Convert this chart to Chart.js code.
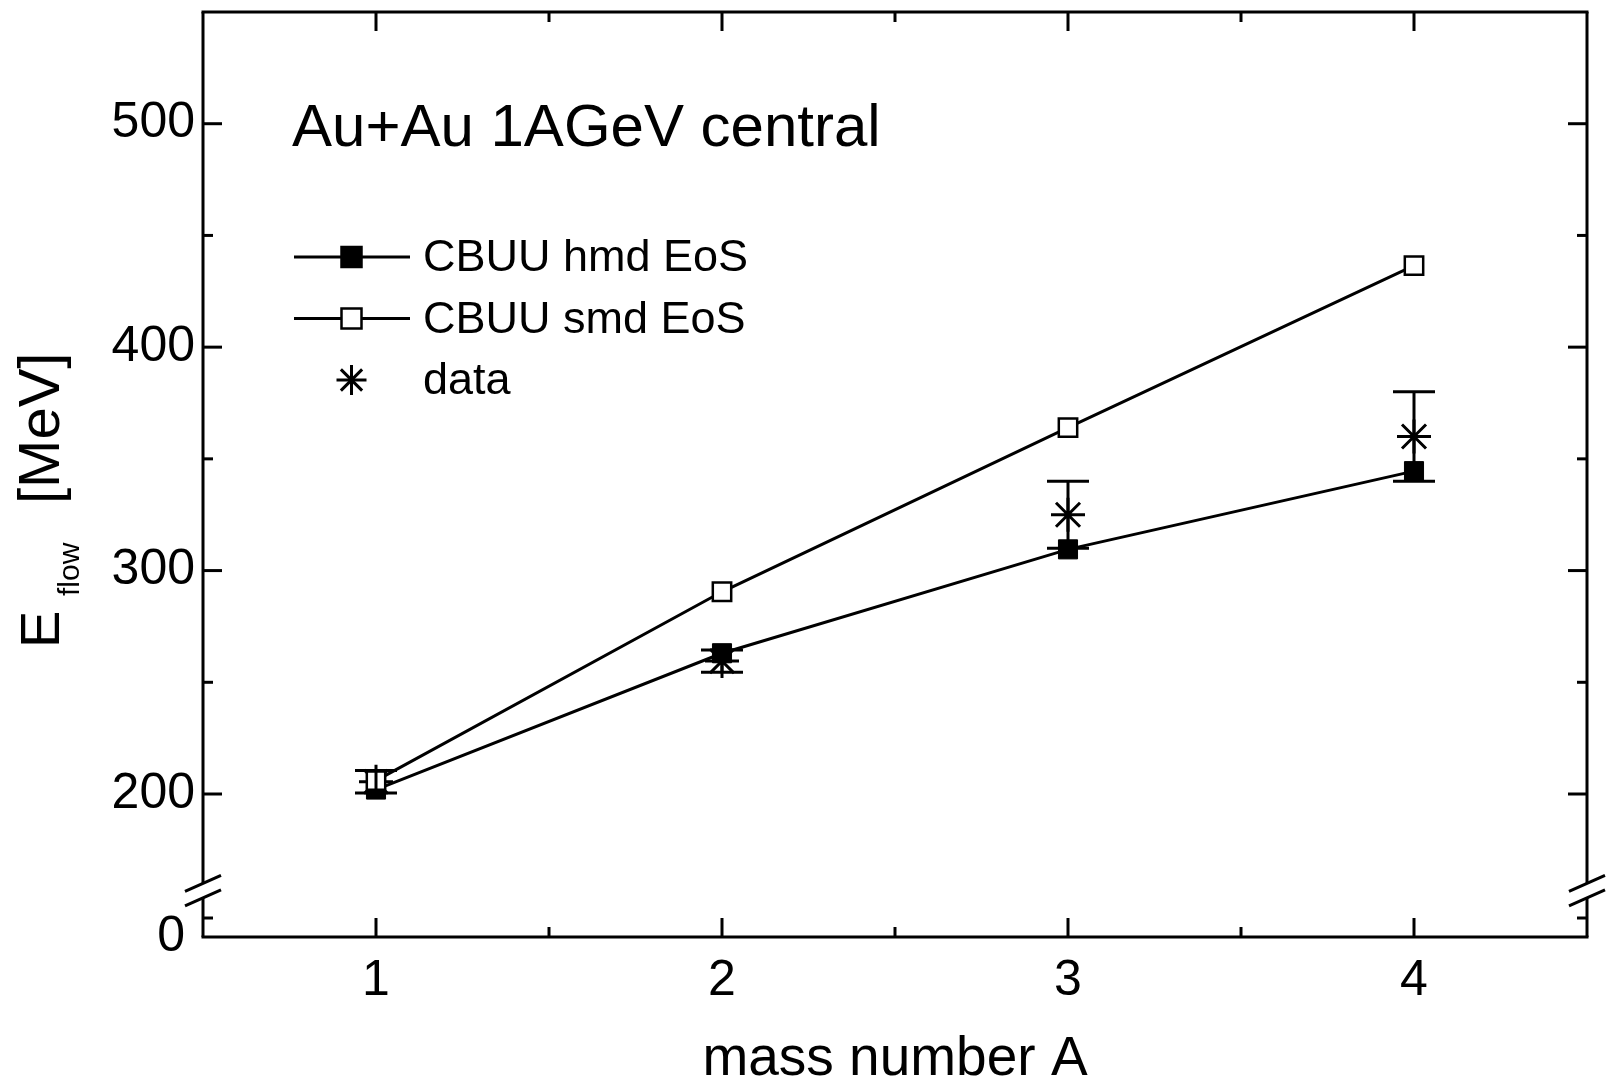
<!DOCTYPE html>
<html>
<head>
<meta charset="utf-8">
<script src="https://cdn.jsdelivr.net/npm/chart.js@4/dist/chart.umd.min.js"></script>
<style>
  body { margin: 0; background: #fff; }
  #wrap { width: 1606px; height: 1086px; }
</style>
</head>
<body>
<div id="wrap"><canvas id="chart"></canvas></div>
<script>
// values
const massNumber = [1, 2, 3, 4];
const hmdFlow = [202, 263, 309.5, 344.5];
const smdFlow = [206, 290.5, 364, 436.5];
const dataFlow = [205.5, 259.5, 325, 360];
const dataErr = [5, 5, 15, 20];

const xTicks = [1, 2, 3, 4];
const xMinorTicks = [1.5, 2.5, 3.5];
const yTicks = [200, 300, 400, 500];
const yMinorTicks = [250, 350, 450];
// broken axis: frame bottom is labelled 0
const yMin = 136, yMax = 550;
const yBreak = [153.5, 160];
const yZeroTick = 144.5;

const legendItems = ['CBUU hmd EoS', 'CBUU smd EoS', 'data'];
const FONT = '"Liberation Sans", Arial, sans-serif';

const frame = {
  id: 'frame',
  afterDatasetsDraw(c) {
    const ctx = c.ctx, a = c.chartArea, xs = c.scales.x, ys = c.scales.y;
    const line = (x1, y1, x2, y2) => { ctx.beginPath(); ctx.moveTo(x1, y1); ctx.lineTo(x2, y2); ctx.stroke(); };
    ctx.save();
    ctx.strokeStyle = '#000';
    ctx.lineWidth = 3;

    // error bars of the data points
    dataFlow.forEach((v, i) => {
      const px = xs.getPixelForValue(massNumber[i]);
      const top = ys.getPixelForValue(v + dataErr[i]);
      const bot = ys.getPixelForValue(v - dataErr[i]);
      line(px, top, px, bot);
      line(px - 21, top, px + 21, top);
      line(px - 21, bot, px + 21, bot);
    });

    // frame with axis breaks
    const bHi = ys.getPixelForValue(yBreak[1]), bLo = ys.getPixelForValue(yBreak[0]);
    line(a.left - 1.5, a.top, a.right + 1.5, a.top);
    line(a.left - 1.5, a.bottom, a.right + 1.5, a.bottom);
    [a.left, a.right].forEach(px => {
      line(px, a.top, px, bHi);
      line(px, bLo, px, a.bottom);
      line(px - 18, bHi + 8, px + 18, bHi - 8);
      line(px - 18, bLo + 8, px + 18, bLo - 8);
    });

    // inward ticks on all four sides
    xTicks.concat(xMinorTicks).forEach(v => {
      const len = xTicks.includes(v) ? 19 : 10;
      const px = xs.getPixelForValue(v);
      line(px, a.bottom, px, a.bottom - len);
      line(px, a.top, px, a.top + len);
    });
    yTicks.concat(yMinorTicks, [yZeroTick]).forEach(v => {
      const len = yTicks.includes(v) ? 19 : 10;
      const py = ys.getPixelForValue(v);
      line(a.left, py, a.left + len, py);
      line(a.right, py, a.right - len, py);
    });
    ctx.restore();
  },
  afterDraw(c) {
    const ctx = c.ctx, a = c.chartArea;
    const line = (x1, y1, x2, y2) => { ctx.beginPath(); ctx.moveTo(x1, y1); ctx.lineTo(x2, y2); ctx.stroke(); };
    ctx.save();
    ctx.fillStyle = '#000';
    ctx.strokeStyle = '#000';

    // annotation
    ctx.font = '60px ' + FONT;
    ctx.textAlign = 'left';
    ctx.textBaseline = 'alphabetic';
    ctx.fillText('Au+Au 1AGeV central', 292, 146);

    // legend
    const rows = [257, 318.5, 380];
    ctx.font = '45px ' + FONT;
    ctx.textBaseline = 'middle';
    rows.forEach((ry, i) => {
      ctx.lineWidth = 3;
      if (i < 2) {
        line(294, ry, 410, ry);
        ctx.fillStyle = i === 0 ? '#000' : '#fff';
        ctx.fillRect(341.5, ry - 10, 20, 20);
        ctx.lineWidth = 2.5;
        ctx.strokeRect(341.5, ry - 10, 20, 20);
      } else {
        const r = 15, cx = 351.5;
        line(cx - r, ry, cx + r, ry);
        line(cx, ry - r, cx, ry + r);
        const d = r * Math.SQRT1_2;
        line(cx - d, ry - d, cx + d, ry + d);
        line(cx - d, ry + d, cx + d, ry - d);
      }
      ctx.fillStyle = '#000';
      ctx.fillText(legendItems[i], 423, ry + 2);
    });

    // x axis title
    ctx.font = '55px ' + FONT;
    ctx.textAlign = 'center';
    ctx.textBaseline = 'alphabetic';
    ctx.fillText('mass number A', (a.left + a.right) / 2, 1075);

    // y axis title, E with subscript flow
    ctx.translate(59, 648);
    ctx.rotate(-Math.PI / 2);
    ctx.textAlign = 'left';
    ctx.font = '56px ' + FONT;
    ctx.fillText('E', 0, 0);
    ctx.font = '30px ' + FONT;
    ctx.fillText('flow', 52, 20);
    ctx.font = '58px ' + FONT;
    ctx.fillText('[MeV]', 144, 0);
    ctx.restore();
  }
};

const pts = (ys) => massNumber.map((x, i) => ({ x: x, y: ys[i] }));

new Chart(document.getElementById('chart'), {
  type: 'line',
  data: {
    datasets: [
      {
        label: 'CBUU smd EoS',
        data: pts(smdFlow),
        borderColor: '#000',
        borderWidth: 3,
        backgroundColor: '#fff',
        pointStyle: 'rect',
        pointRadius: 13,
        pointBorderWidth: 2.5,
        tension: 0
      },
      {
        label: 'CBUU hmd EoS',
        data: pts(hmdFlow),
        borderColor: '#000',
        borderWidth: 3,
        backgroundColor: '#000',
        pointStyle: 'rect',
        pointRadius: 13.5,
        pointBorderWidth: 1,
        tension: 0
      },
      {
        label: 'data',
        data: pts(dataFlow),
        showLine: false,
        borderColor: '#000',
        pointStyle: 'star',
        pointRadius: 17,
        pointBorderWidth: 3
      }
    ]
  },
  options: {
    responsive: true,
    maintainAspectRatio: false,
    animation: false,
    layout: { autoPadding: false, padding: { top: 12, right: 19, left: 0, bottom: 0 } },
    plugins: { legend: { display: false }, tooltip: { enabled: false } },
    scales: {
      x: {
        type: 'linear',
        min: 0.5,
        max: 4.5,
        grid: { display: false, drawTicks: false },
        border: { display: false },
        afterBuildTicks: s => { s.ticks = xTicks.map(v => ({ value: v })); },
        afterFit: s => { s.height = 149; s.paddingLeft = 0; s.paddingRight = 0; },
        ticks: { color: '#000', padding: 14, font: { family: FONT, size: 50 } }
      },
      y: {
        type: 'linear',
        min: yMin,
        max: yMax,
        grid: { display: false, drawTicks: false },
        border: { display: false },
        afterBuildTicks: s => { s.ticks = [yMin].concat(yTicks).map(v => ({ value: v })); },
        afterFit: s => { s.width = 203; s.paddingTop = 0; s.paddingBottom = 0; },
        ticks: {
          color: '#000',
          padding: 8,
          font: { family: FONT, size: 50 },
          callback: v => (v === yMin ? '0\u2009' : String(v))
        }
      }
    }
  },
  plugins: [frame]
});
</script>
</body>
</html>
